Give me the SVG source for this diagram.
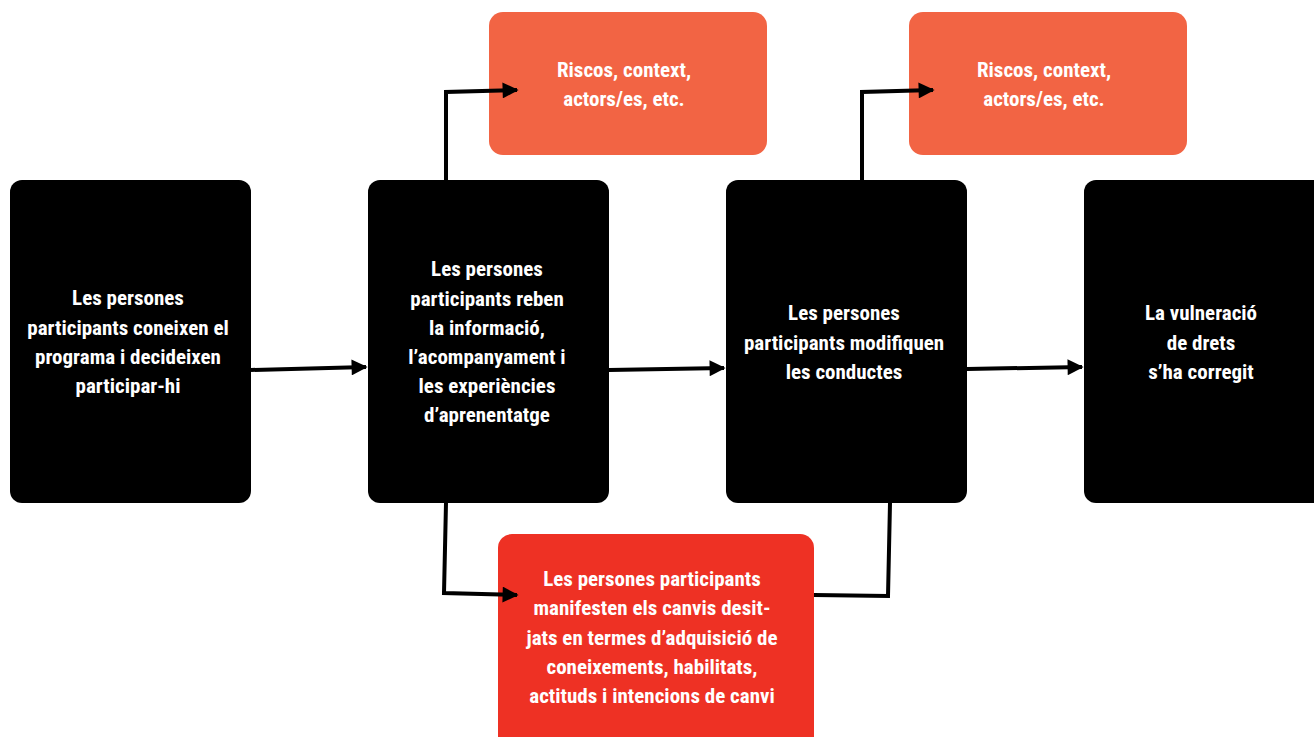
<svg xmlns="http://www.w3.org/2000/svg" width="1314" height="737" viewBox="0 0 1314 737">
<defs>
<style>
.box{fill:#000}
.orange{fill:#F26444}
.red{fill:#EE3124}
.t{fill:#fff;font-family:"Liberation Sans Narrow","Roboto Condensed","DejaVu Sans Condensed","Liberation Sans",sans-serif;font-weight:bold;font-size:21px;text-anchor:middle}
.c{fill:none;stroke:#000;stroke-width:4;stroke-linejoin:miter}
</style>
<marker id="ah" viewBox="0 0 10 10" refX="9" refY="5" markerWidth="6" markerHeight="4" markerUnits="strokeWidth" orient="auto">
<path d="M0,0 L10,5 L0,10 Z" fill="#000"/>
</marker>
</defs>
<rect width="1314" height="737" fill="#fff"/>
<g id="n1">
<rect class="box" x="10" y="180" width="241" height="323" rx="12"/>
<text class="t" x="128" y="305">Les persones</text>
<text class="t" x="128" y="335">participants coneixen el</text>
<text class="t" x="128" y="364">programa i decideixen</text>
<text class="t" x="128" y="393">participar-hi</text>
</g>
<g id="n2">
<rect class="box" x="368" y="180" width="241" height="323" rx="12"/>
<text class="t" x="487" y="276">Les persones</text>
<text class="t" x="487" y="306">participants reben</text>
<text class="t" x="487" y="335">la informació,</text>
<text class="t" x="487" y="364">l’acompanyament i</text>
<text class="t" x="487" y="393">les experiències</text>
<text class="t" x="487" y="422">d’aprenentatge</text>
</g>
<g id="n3">
<rect class="box" x="726" y="180" width="241" height="323" rx="12"/>
<text class="t" x="844" y="320">Les persones</text>
<text class="t" x="844" y="350">participants modifiquen</text>
<text class="t" x="844" y="379">les conductes</text>
</g>
<g id="n4">
<rect class="box" x="1084" y="180" width="250" height="323" rx="12"/>
<text class="t" x="1201" y="320">La vulneració</text>
<text class="t" x="1201" y="350">de drets</text>
<text class="t" x="1201" y="379">s’ha corregit</text>
</g>
<g id="o1">
<rect class="orange" x="489" y="12" width="278" height="143" rx="14"/>
<text class="t" x="624" y="77">Riscos, context,</text>
<text class="t" x="624" y="106">actors/es, etc.</text>
</g>
<g id="o2">
<rect class="orange" x="909" y="12" width="278" height="143" rx="14"/>
<text class="t" x="1044" y="77">Riscos, context,</text>
<text class="t" x="1044" y="106">actors/es, etc.</text>
</g>
<g id="r1">
<rect class="red" x="498" y="534" width="316" height="220" rx="14"/>
<text class="t" x="652" y="586">Les persones participants</text>
<text class="t" x="652" y="615">manifesten els canvis desit-</text>
<text class="t" x="652" y="645">jats en termes d’adquisició de</text>
<text class="t" x="652" y="674">coneixements, habilitats,</text>
<text class="t" x="652" y="703">actituds i intencions de canvi</text>
</g>
<g id="connectors">
<path class="c" d="M251,370 L366,367" marker-end="url(#ah)"/>
<path class="c" d="M609,370 L724,368" marker-end="url(#ah)"/>
<path class="c" d="M967,369 L1082,367" marker-end="url(#ah)"/>
<path class="c" d="M446,180 L446,92 L517,90" marker-end="url(#ah)"/>
<path class="c" d="M862,180 L862,92 L933,90" marker-end="url(#ah)"/>
<path class="c" d="M446,503 L444,593 L517,595" marker-end="url(#ah)"/>
<path class="c" d="M814,595 L888,596 L890,503"/>
</g>
</svg>
